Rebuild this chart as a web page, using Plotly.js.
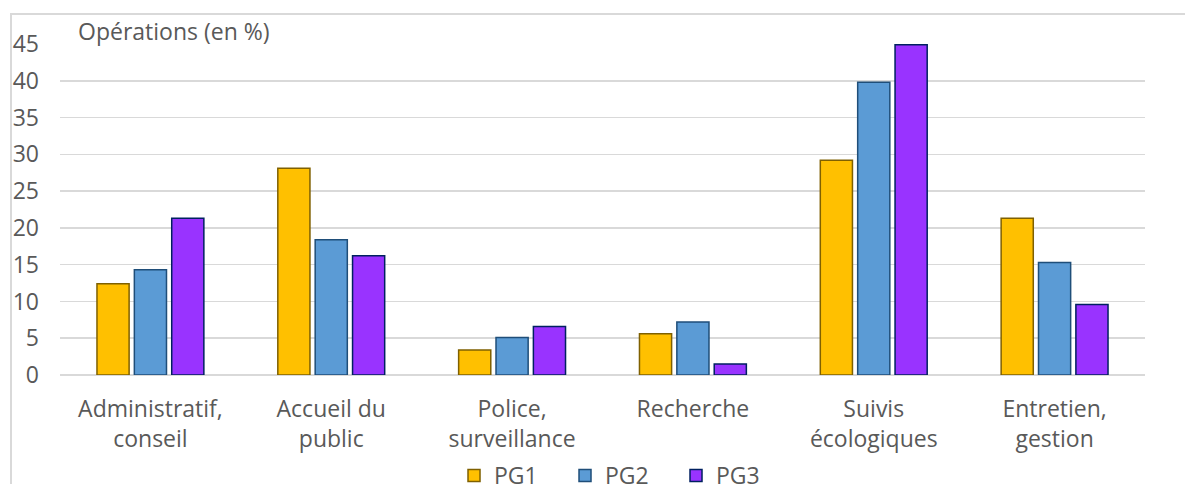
<!DOCTYPE html>
<html>
<head>
<meta charset="utf-8">
<script src="https://cdn.plot.ly/plotly-3.0.1.min.js"></script>
<style>
  body { margin: 0; background: #fff; overflow: hidden; }
  #frame { position: absolute; left: 10px; top: 13px; width: 1200px; height: 500px; border: 2px solid #d9d9d9; box-sizing: border-box; }
  #chart { position: absolute; left: 0; top: 0; width: 1185px; height: 484px; }
</style>
</head>
<body>
<div id="frame"></div>
<div id="chart"></div>
<script>
// categories and values (%)
const categories = ["Administratif,<br>conseil", "Accueil du<br>public", "Police,<br>surveillance", "Recherche", "Suivis<br>écologiques", "Entretien,<br>gestion"];
const pg1 = [12.4, 28.1, 3.4, 5.6, 29.2, 21.3];
const pg2 = [14.3, 18.4, 5.1, 7.2, 39.8, 15.3];
const pg3 = [21.3, 16.2, 6.6, 1.5, 44.9, 9.6];
const seriesNames = ["PG1", "PG2", "PG3"];
const fills = ["#ffc000", "#5b9bd5", "#9933ff"];
const outlines = ["#7f6000", "#1f4e79", "#002060"];

const textColor = '#595959';
const fontFam = 'Open Sans, sans-serif';
const fs = 23;

const traces = [pg1, pg2, pg3].map((vals, i) => ({
    x: categories, y: vals, type: 'bar', name: seriesNames[i],
    marker: { color: fills[i], line: { color: outlines[i], width: 1.5 } }
}));

const layout = {
    width: 1185, height: 484,
    paper_bgcolor: 'rgba(0,0,0,0)', plot_bgcolor: 'rgba(0,0,0,0)',
    font: { family: fontFam, size: fs, color: textColor },
    margin: { l: 60, r: 40, t: 44, b: 109, autoexpand: false },
    bargap: 0.38, bargroupgap: 0.14, barmode: 'group',
    showlegend: true,
    legend: {
        orientation: 'h', x: 0.5166, xanchor: 'center', yref: 'container', y: 0.062, yanchor: 'top',
        font: { size: fs, color: textColor }, entrywidth: 66, entrywidthmode: 'pixels',
        traceorder: 'normal'
    },
    xaxis: {
        type: 'category', showgrid: false, showline: false, ticks: '', zeroline: false,
        automargin: false, tickfont: { size: fs, color: textColor }, ticklabelstandoff: 18
    },
    yaxis: {
        range: [0, 45], dtick: 5, showgrid: true, gridcolor: '#d9d9d9', gridwidth: 1.5,
        zeroline: true, zerolinecolor: '#d9d9d9', zerolinewidth: 1.5, automargin: false,
        tickfont: { size: fs, color: textColor }, ticklabelstandoff: 20, fixedrange: true
    },
    annotations: [{
        text: 'Opérations (en %)', xref: 'paper', yref: 'paper', x: 0.015, y: 0.985,
        xanchor: 'left', yanchor: 'bottom', showarrow: false,
        font: { size: fs, color: textColor }
    }]
};

Plotly.newPlot('chart', traces, layout, { displayModeBar: false, staticPlot: true });
</script>
</body>
</html>
